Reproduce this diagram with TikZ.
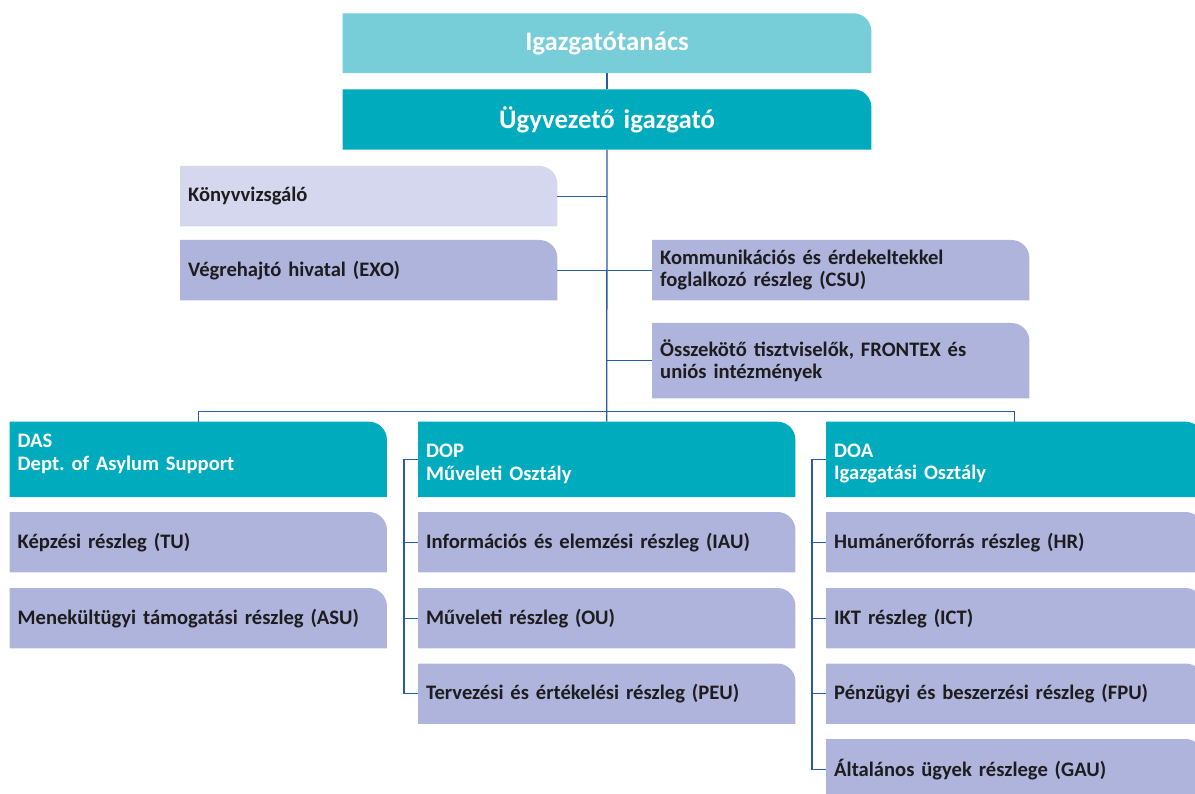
\documentclass[tikz,border=0pt]{standalone}
\usepackage{fontspec}
\setmainfont{Carlito}
\frenchspacing
\usetikzlibrary{calc}
\usetikzlibrary{backgrounds}
\definecolor{boardteal}{RGB}{119,206,216}
\definecolor{deepteal}{RGB}{0,171,189}
\definecolor{palelilac}{RGB}{213,215,238}
\definecolor{lilac}{RGB}{174,180,219}
\definecolor{linkblue}{RGB}{40,90,170}
\definecolor{ink}{RGB}{30,28,30}

\begin{document}
\begin{tikzpicture}[x=1pt,y=-1pt]
\tikzstyle{unit}=[anchor=north west,minimum width=377pt,minimum height=60pt,inner xsep=8pt,inner ysep=0pt,text width=361pt,align=left,font=\fontsize{20.6}{22.5}\selectfont\bfseries,text=ink]
\tikzstyle{head}=[unit,minimum width=528.3pt,text width=512.3pt,align=center,font=\fontsize{26.8}{30}\selectfont\bfseries,text=white]
\tikzstyle{dept}=[unit,minimum height=75pt,text=white]
\tikzstyle{link}=[draw=linkblue,line width=1.3pt]
\useasboundingbox (0,0) rectangle (1195,794);
% top of the chart
\node [head,minimum height=59.4pt] (board) at (342.7,13.3) {Igazgatótanács};
\node [head] (ceo) at (342.7,89.3) {Ügyvezető igazgató};
\node [unit] (audit) at (180,166) {Könyvvizsgáló};
\node [unit] (exo) at (180,240) {Végrehajtó hivatal (EXO)};
\node [unit] (csu) at (652,240) {Kommunikációs és érdekeltekkel\\foglalkozó részleg (CSU)};
\node [unit,minimum height=75pt] (liaison) at (652,323) {Összekötő tisztviselők, FRONTEX és\\uniós intézmények};
% departments
\node [dept] (das) at (9.5,421.7) {DAS\\Dept. of Asylum Support\rule[-14pt]{0pt}{14pt}};
\node [dept] (dop) at (418,421.7) {\rule{0pt}{22pt}DOP\\Műveleti Osztály};
\node [dept] (doa) at (826,421.7) {\rule{0pt}{22pt}DOA\\Igazgatási Osztály};
\node [unit] (tu) at (9.5,512) {Képzési részleg (TU)};
\node [unit] (asu) at (9.5,588) {Menekültügyi támogatási részleg (ASU)};
\node [unit] (iau) at (418,512) {Információs és elemzési részleg (IAU)};
\node [unit] (ou) at (418,588) {Műveleti részleg (OU)};
\node [unit] (peu) at (418,663.5) {Tervezési és értékelési részleg (PEU)};
\node [unit] (hr) at (826,512) {Humánerőforrás részleg (HR)};
\node [unit] (ict) at (826,588) {IKT részleg (ICT)};
\node [unit] (fpu) at (826,663.5) {Pénzügyi és beszerzési részleg (FPU)};
\node [unit] (gau) at (826,739) {Általános ügyek részlege (GAU)};
\begin{scope}[on background layer]
\foreach \n/\c in {board/boardteal,ceo/deepteal,audit/palelilac,exo/lilac,csu/lilac,liaison/lilac,das/deepteal,dop/deepteal,doa/deepteal,tu/lilac,asu/lilac,iau/lilac,ou/lilac,peu/lilac,hr/lilac,ict/lilac,fpu/lilac,gau/lilac}
  \fill [\c] (\n.south west) -- (\n.north west) -- ([xshift=-18pt]\n.north east) arc [start angle=90,end angle=0,radius=18pt] -- (\n.south east) -- cycle;
\end{scope}
% connectors
\draw [link] (board.south) -- (ceo.north);
\draw [link] (ceo.south) -- (dop.north);
\draw [link] (audit.east) -- (audit.east -| ceo.south);
\draw [link] (exo.east) -- (exo.east -| ceo.south);
\draw [link] (csu.west) -- (csu.west -| ceo.south);
\draw [link] (liaison.west) -- (liaison.west -| ceo.south);
\coordinate (bus) at (ceo.south |- 0,411.7);
\draw [link] (das.north) |- (bus) -| (doa.north);
\coordinate (dopbar) at ($(dop.west)+(-14,0)$);
\coordinate (doabar) at ($(doa.west)+(-14,0)$);
\draw [link] (dop.west) -- (dopbar) |- (peu.west);
\foreach \n in {iau,ou} \draw [link] (dopbar) |- (\n.west);
\draw [link] (doa.west) -- (doabar) |- (gau.west);
\foreach \n in {hr,ict,fpu} \draw [link] (doabar) |- (\n.west);
\end{tikzpicture}
\end{document}
